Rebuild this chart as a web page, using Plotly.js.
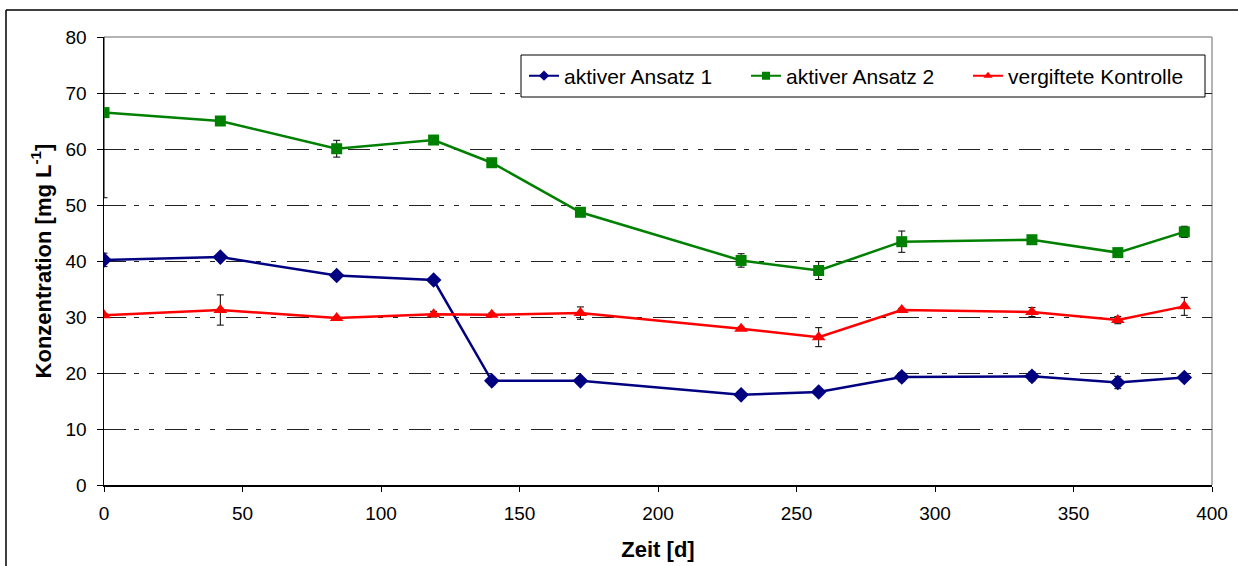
<!DOCTYPE html>
<html>
<head>
<meta charset="utf-8">
<script src="https://cdn.plot.ly/plotly-3.0.1.min.js"></script>
<style>
  html, body { margin: 0; padding: 0; background: #fff; }
  #chart { width: 1238px; height: 566px; }
</style>
</head>
<body>
<div id="chart"></div>
<script>
// Messzeitpunkte in Tagen
const days = [0, 42, 84, 119, 140, 172, 230, 258, 288, 335, 366, 390];

// aktiver Ansatz 1
const ansatz1 = [40.2, 40.7, 37.4, 36.6, 18.6, 18.6, 16.1, 16.6, 19.3, 19.4, 18.3, 19.2];
const ansatz1Err = [1.2, 0.3, 0.3, 0.3, 0.7, 0.3, 0.5, 0.3, 0.8, 0.8, 1.1, 0.3];

// aktiver Ansatz 2
const ansatz2 = [66.5, 65.0, 60.05, 61.6, 57.55, 48.7, 40.1, 38.3, 43.45, 43.8, 41.5, 45.2];
const ansatz2Err = [15.2, 0.3, 1.5, 0.3, 0.3, 0.3, 1.2, 1.6, 1.9, 0.3, 0.3, 1.0];

// vergiftete Kontrolle
const kontrolle = [30.3, 31.25, 29.8, 30.5, 30.4, 30.7, 27.9, 26.4, 31.25, 30.9, 29.45, 31.9];
const kontrolleErr = [0.3, 2.7, 0.3, 0.5, 0.3, 1.1, 0.3, 1.7, 0.3, 0.8, 0.65, 1.6];

const seriesNames = ['aktiver Ansatz 1', 'aktiver Ansatz 2', 'vergiftete Kontrolle'];
const seriesColors = ['#000080', '#008000', '#FF0000'];
const seriesSymbols = ['diamond', 'square', 'triangle-up'];
const xTicks = [0, 50, 100, 150, 200, 250, 300, 350, 400];
const yTicks = [0, 10, 20, 30, 40, 50, 60, 70, 80];

const FONT = 'Liberation Sans, Arial, sans-serif';

function errBars(arr) {
  return {
    type: 'data', array: arr, visible: true,
    color: '#000', thickness: 1, width: 3.5
  };
}

const values = [ansatz1, ansatz2, kontrolle];
const errors = [ansatz1Err, ansatz2Err, kontrolleErr];
const markerSizes = [12, 11, 12];

// data traces (legend hidden, legend uses compact key entries below)
const traces = values.map((ys, i) => ({
  x: days, y: ys, name: seriesNames[i], type: 'scatter', mode: 'lines+markers',
  showlegend: false,
  line: { color: seriesColors[i], width: 2.5 },
  marker: { symbol: seriesSymbols[i], size: markerSizes[i], color: seriesColors[i] },
  error_y: errBars(errors[i])
}));

// legend keys with small symbols
seriesNames.forEach((name, i) => {
  traces.push({
    x: [null], y: [null], name: name, type: 'scatter', mode: 'lines+markers',
    showlegend: true, hoverinfo: 'skip',
    line: { color: seriesColors[i], width: 2 },
    marker: { symbol: seriesSymbols[i], size: 8, color: seriesColors[i] }
  });
});

const W = 1238, H = 566;
const M = { l: 104, r: 26, t: 37, b: 81 };
const pw = W - M.l - M.r, ph = H - M.t - M.b;
// pixel -> paper helpers for frame and legend box
const px = v => (v - M.l) / pw;
const py = v => (H - M.b - v) / ph;

const layout = {
  width: W, height: H,
  margin: M,
  paper_bgcolor: '#fff',
  plot_bgcolor: '#fff',
  font: { family: FONT, size: 19, color: '#000' },
  showlegend: true,
  legend: {
    orientation: 'h',
    x: px(524), y: py(76), xanchor: 'left', yanchor: 'middle',
    bgcolor: 'rgba(0,0,0,0)', borderwidth: 0,
    font: { family: FONT, size: 21, color: '#000' },
    itemsizing: 'trace', itemwidth: 30,
    entrywidth: 177
  },
  xaxis: {
    range: [0, 400],
    tickvals: xTicks,
    ticktext: xTicks.map(String),
    ticks: 'outside', ticklen: 5, tickcolor: '#000', tickwidth: 1,
    ticklabelstandoff: 6,
    showline: true, linecolor: '#000', linewidth: 1.5,
    showgrid: false, zeroline: false,
    tickfont: { family: FONT, size: 19 },
    title: { text: '<b>Zeit [d]</b>', font: { family: FONT, size: 22 }, standoff: 18 }
  },
  yaxis: {
    range: [0, 80],
    tickvals: yTicks,
    ticktext: yTicks.map(String),
    ticks: 'outside', ticklen: 6, tickcolor: '#000', tickwidth: 1,
    ticklabelstandoff: 6,
    showline: true, linecolor: '#000', linewidth: 1.5,
    showgrid: true, gridcolor: '#222', gridwidth: 1,
    griddash: '22px,8px,5px,10px,5px,11px',
    zeroline: false,
    tickfont: { family: FONT, size: 19 },
    title: { text: '<b>Konzentration [mg L<sup>-1</sup>]</b>', font: { family: FONT, size: 22 }, standoff: 8 }
  },
  shapes: [
    // plot area border (top and right)
    { type: 'line', xref: 'paper', yref: 'paper', x0: 0, x1: 1, y0: 1, y1: 1,
      line: { color: '#9a9a9a', width: 1.5 }, layer: 'below' },
    { type: 'line', xref: 'paper', yref: 'paper', x0: 1, x1: 1, y0: 0, y1: 1,
      line: { color: '#9a9a9a', width: 1.5 }, layer: 'below' },
    // legend box
    { type: 'rect', xref: 'paper', yref: 'paper', x0: px(521), x1: px(1205), y0: py(97), y1: py(55),
      line: { color: '#000', width: 1 }, fillcolor: '#fff', layer: 'above' },
    // chart frame (left and top)
    { type: 'line', xref: 'paper', yref: 'paper', x0: px(6), x1: px(6), y0: py(566), y1: py(10),
      line: { color: '#000', width: 1.5 } },
    { type: 'line', xref: 'paper', yref: 'paper', x0: px(6), x1: px(1238), y0: py(10), y1: py(10),
      line: { color: '#000', width: 1.5 } }
  ]
};

Plotly.newPlot('chart', traces, layout, { staticPlot: true, displayModeBar: false });
</script>
</body>
</html>
